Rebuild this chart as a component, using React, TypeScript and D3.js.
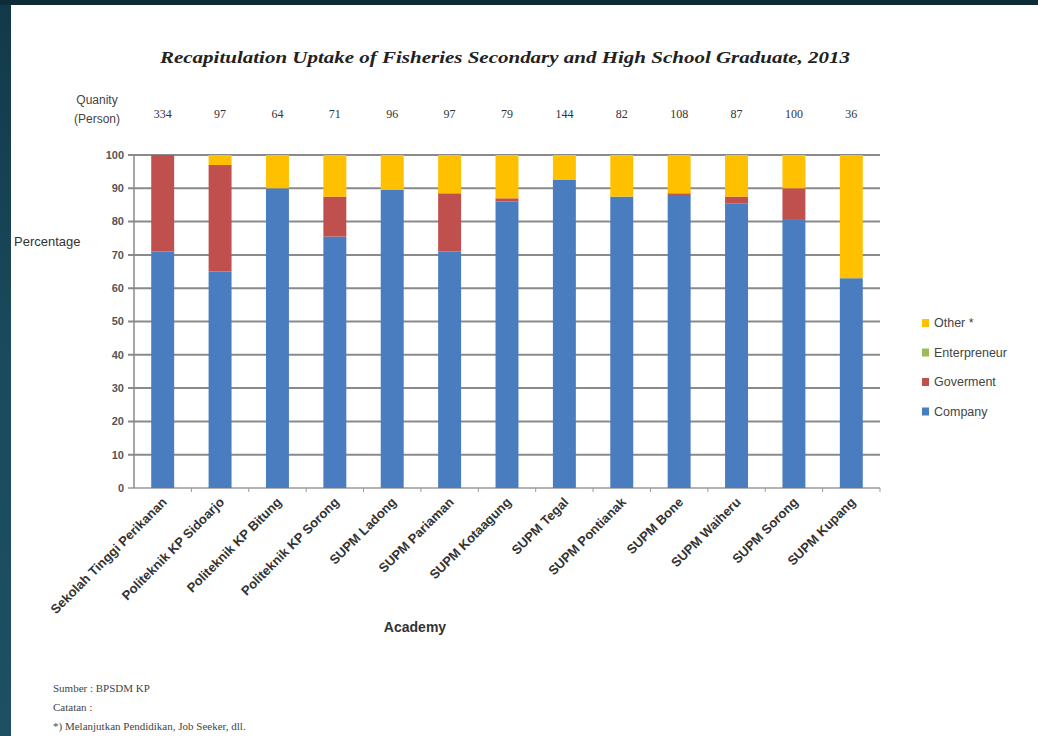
import { useMemo } from 'react';
import * as d3 from 'd3';

// ── data ──
const academies = [
  'Sekolah Tinggi Perikanan', 'Politeknik KP Sidoarjo', 'Politeknik KP Bitung', 'Politeknik KP Sorong',
  'SUPM Ladong', 'SUPM Pariaman', 'SUPM Kotaagung', 'SUPM Tegal', 'SUPM Pontianak', 'SUPM Bone',
  'SUPM Waiheru', 'SUPM Sorong', 'SUPM Kupang',
];
const quantity = [334, 97, 64, 71, 96, 97, 79, 144, 82, 108, 87, 100, 36];
const company = [71, 65, 90, 75.5, 89.5, 71, 86, 92.5, 87.5, 88, 85.5, 80.5, 63];
const goverment = [29, 32, 0, 12, 0, 17.5, 1, 0, 0, 0.5, 2, 9.5, 0];
const enterpreneur = [0, 0, 0, 0, 0, 0, 0, 0, 0, 0, 0, 0, 0];
const other = [0, 3, 10, 12.5, 10.5, 11.5, 13, 7.5, 12.5, 11.5, 12.5, 10, 37];
const yTicks = [0, 10, 20, 30, 40, 50, 60, 70, 80, 90, 100];

const seriesKeys = ['company', 'goverment', 'enterpreneur', 'other'];
const seriesColors: Record<string, string> = {
  company: '#4a7dbf',
  goverment: '#c0504d',
  enterpreneur: '#9bbb59',
  other: '#ffc000',
};
const legendItems = [
  { key: 'other', label: 'Other *' },
  { key: 'enterpreneur', label: 'Enterpreneur' },
  { key: 'goverment', label: 'Goverment' },
  { key: 'company', label: 'Company' },
];

const W = 1038;
const H = 736;
const margin = { left: 134, right: 158, top: 155, bottom: 248 };

export default function App() {
  const plotW = W - margin.left - margin.right;
  const plotH = H - margin.top - margin.bottom;

  const rows = academies.map((name, i) => ({
    name,
    company: company[i],
    goverment: goverment[i],
    enterpreneur: enterpreneur[i],
    other: other[i],
  }));

  const stacked = useMemo(() => d3.stack<any>().keys(seriesKeys)(rows), []);

  const x = d3.scaleBand().domain(academies).range([0, plotW]).paddingInner(0.6).paddingOuter(0.3);
  const y = d3.scaleLinear().domain([0, 100]).range([plotH, 0]);
  const step = x.step();
  const bandStart = (name: string) => x(name)! - (step - x.bandwidth()) / 2;

  const sans = 'Liberation Sans, Arial, sans-serif';
  const serif = 'Liberation Serif, serif';

  return (
    <div style={{ position: 'fixed', left: 0, top: 0 }}>
      <svg width={W} height={H} style={{ display: 'block' }}>
        <defs>
          <linearGradient id="bgGrad" x1="0" y1="0" x2="0" y2="1">
            <stop offset="0" stopColor="#12394a" />
            <stop offset="0.5" stopColor="#1a4b5c" />
            <stop offset="1" stopColor="#1c5062" />
          </linearGradient>
        </defs>
        <rect width={W} height={H} fill="url(#bgGrad)" />
        <rect x={0} y={0} width={W} height={5} fill="#0c2c38" />
        <rect x={11} y={5} width={W - 11} height={H - 5} fill="#ffffff" />

        {/* title */}
        <text x={505} y={63} textAnchor="middle" fontFamily={serif} fontWeight="bold" fontStyle="italic"
          fontSize={16} fill="#222" textLength={690} lengthAdjust="spacingAndGlyphs">
          Recapitulation Uptake of Fisheries Secondary and High School Graduate, 2013
        </text>

        {/* quantity row */}
        <text x={97} y={104} textAnchor="middle" fontFamily={sans} fontSize={12} fill="#444">Quanity</text>
        <text x={97} y={123} textAnchor="middle" fontFamily={sans} fontSize={12} fill="#444">(Person)</text>

        <g transform={`translate(${margin.left},${margin.top})`}>
          {/* grid */}
          {yTicks.map((t) => (
            <g key={t}>
              <line x1={-6} x2={plotW} y1={y(t)} y2={y(t)} stroke={t === 0 ? '#9a9a9a' : '#8a8a8a'} strokeWidth={t === 0 ? 1.5 : 2} />
              <text x={-10} y={y(t)} dy="0.35em" textAnchor="end" fontFamily={sans} fontWeight="bold"
                fontSize={11} fill="#555">{t}</text>
            </g>
          ))}
          <line x1={0} x2={0} y1={0} y2={plotH} stroke="#8a8a8a" strokeWidth={1.5} />

          {/* quantity labels */}
          {academies.map((a, i) => (
            <text key={a} x={x(a)! + x.bandwidth() / 2} y={-37} textAnchor="middle" fontFamily={serif}
              fontSize={12} fill="#333">{quantity[i]}</text>
          ))}

          {/* bars */}
          {stacked.map((s) => (
            <g key={s.key} fill={seriesColors[s.key]}>
              {s.map((d, i) => (
                d[1] - d[0] > 0 ? (
                  <rect key={i} x={x(academies[i])} width={x.bandwidth()} y={y(d[1])}
                    height={y(d[0]) - y(d[1])} />
                ) : null
              ))}
            </g>
          ))}

          {/* x ticks */}
          {academies.map((a) => (
            <line key={a} x1={bandStart(a) + step} x2={bandStart(a) + step} y1={plotH} y2={plotH + 4}
              stroke="#999" strokeWidth={1} />
          ))}
          {/* x labels */}
          {academies.map((a) => (
            <text key={a} transform={`translate(${x(a)! + x.bandwidth() / 2 + 5},${plotH + 15}) rotate(-45)`}
              textAnchor="end" fontFamily={sans} fontWeight="bold" fontSize={13} fill="#333">{a}</text>
          ))}
        </g>

        <text x={14} y={246} fontFamily={sans} fontSize={13} fill="#333">Percentage</text>
        <text x={415} y={632} textAnchor="middle" fontFamily={sans} fontWeight="bold" fontSize={14} fill="#333">Academy</text>

        {/* legend */}
        {legendItems.map((l, i) => (
          <g key={l.key} transform={`translate(922,${319 + i * 29.5})`}>
            <rect x={0} y={0} width={7} height={8} fill={seriesColors[l.key]} />
            <text x={12} y={8} fontFamily={sans} fontSize={12.5} fill="#444">{l.label}</text>
          </g>
        ))}

        {/* notes */}
        <text x={53} y={692} fontFamily={serif} fontSize={11} fill="#444">Sumber : BPSDM KP</text>
        <text x={53} y={711} fontFamily={serif} fontSize={11} fill="#444">Catatan :</text>
        <text x={53} y={730} fontFamily={serif} fontSize={11} fill="#444">*) Melanjutkan Pendidikan, Job Seeker, dll.</text>
      </svg>
    </div>
  );
}
